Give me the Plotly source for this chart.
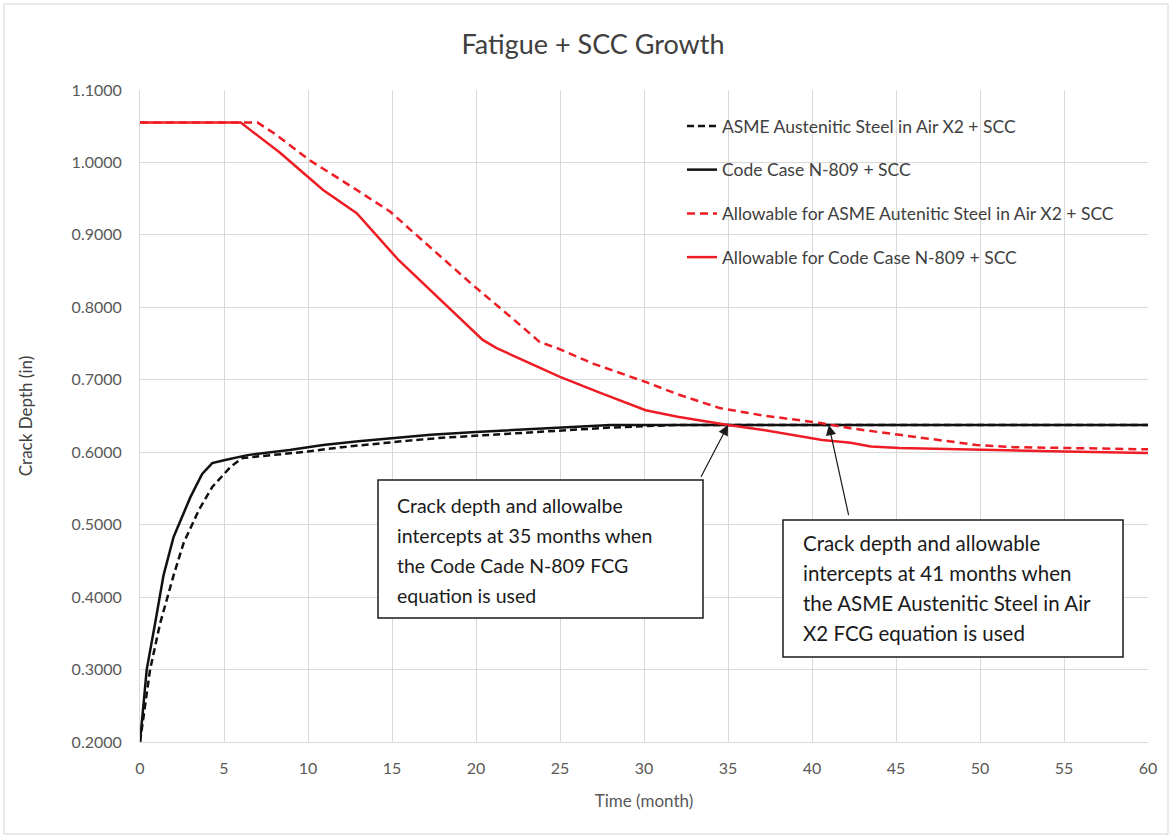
import plotly.graph_objects as go

# Crack depth growth (in) vs time (month)
t_asme = [0, 0.6, 1.2, 2.0, 2.6, 3.5, 4.3, 5.4, 6.1, 8, 10, 12, 14, 16, 18, 20, 22, 25, 28, 30, 32, 40, 50, 60]
d_asme = [0.200, 0.300, 0.364, 0.430, 0.475, 0.520, 0.552, 0.580, 0.592, 0.596, 0.601, 0.607, 0.612,
          0.616, 0.620, 0.623, 0.626, 0.630, 0.634, 0.636, 0.6375, 0.6375, 0.6375, 0.6375]

t_n809 = [0, 0.4, 0.9, 1.4, 2.0, 3.0, 3.7, 4.3, 5.0, 6.4, 8.9, 10.9, 13, 15, 17.3, 20, 23, 26, 28, 40, 50, 60]
d_n809 = [0.200, 0.300, 0.364, 0.430, 0.483, 0.538, 0.570, 0.585, 0.589, 0.596, 0.603, 0.610, 0.615,
          0.619, 0.624, 0.628, 0.632, 0.635, 0.6375, 0.6375, 0.6375, 0.6375]

# Allowable crack depth (in) vs time (month)
t_allow_asme = [0, 7, 8, 10.1, 12.5, 14.9, 16.1, 18, 19.8, 22, 23.8, 24.8, 27, 30.1, 32, 34.5, 37, 40.6,
                42.3, 45.2, 47.5, 49.8, 52, 55, 60]
a_allow_asme = [1.055, 1.055, 1.040, 1.003, 0.968, 0.932, 0.907, 0.868, 0.831, 0.788, 0.752, 0.744, 0.722,
                0.697, 0.680, 0.661, 0.651, 0.640, 0.633, 0.624, 0.617, 0.610, 0.607, 0.606, 0.604]

t_allow_n809 = [0, 6, 6.5, 8.3, 10.9, 12.9, 15.4, 17.9, 20.4, 21.2, 25, 27.4, 30.1, 32, 35, 37, 40.6, 42.3,
                43.5, 45.2, 50.2, 55, 60]
a_allow_n809 = [1.055, 1.055, 1.046, 1.014, 0.962, 0.930, 0.865, 0.810, 0.755, 0.744, 0.704, 0.682, 0.658,
                0.649, 0.6375, 0.631, 0.617, 0.613, 0.608, 0.606, 0.603, 0.601, 0.599]

series_names = [
    "ASME Austenitic Steel in Air X2 + SCC",
    "Code Case N-809 + SCC",
    "Allowable for ASME Autenitic Steel in Air X2 + SCC",
    "Allowable for Code Case N-809 + SCC",
]

x_ticks = list(range(0, 61, 5))
y_ticks = [0.2, 0.3, 0.4, 0.5, 0.6, 0.7, 0.8, 0.9, 1.0, 1.1]

# intercept points (month, depth) and where each callout's leader starts
intercept_n809 = (35, 0.6375)
intercept_asme = (41, 0.6375)
leader_n809 = (33.35, 0.564)
leader_asme = (42.2, 0.511)

box_n809_lines = ["Crack depth and allowalbe", "intercepts at 35 months when",
                  "the Code Cade N-809 FCG", "equation is used"]
box_asme_lines = ["Crack depth and allowable", "intercepts at 41 months when",
                  "the ASME Austenitic Steel in Air", "X2 FCG equation is used"]

FONT = "Lato"
BLACK = "#111111"
RED = "#ee1c24"

fig = go.Figure()
fig.add_trace(go.Scatter(x=t_asme, y=d_asme, mode="lines", name=series_names[0],
                         line=dict(color=BLACK, width=2.5, dash="7px,4px"), legendgroup="a"))
fig.add_trace(go.Scatter(x=t_n809, y=d_n809, mode="lines", name=series_names[1],
                         line=dict(color=BLACK, width=2.5), legendgroup="b"))
fig.add_trace(go.Scatter(x=t_allow_asme, y=a_allow_asme, mode="lines", name=series_names[2],
                         line=dict(color=RED, width=2.5, dash="8px,5px"), legendgroup="c"))
fig.add_trace(go.Scatter(x=t_allow_n809, y=a_allow_n809, mode="lines", name=series_names[3],
                         line=dict(color=RED, width=2.5), legendgroup="d"))

# plot geometry in pixels: left 140, right 1148, top 90, bottom 742
L, R, T, B = 140, 1148, 90, 742
W, H = 1172, 838


def px_to_paper(px, py):
    return (px - L) / (R - L), (B - py) / (B - T)


shapes = []
# white panel behind the legend (hides gridlines, stays under traces)
g0 = px_to_paper(645, 278)
g1 = px_to_paper(1130, 106)
shapes.append(dict(type="rect", xref="paper", yref="paper", x0=g0[0], y0=g0[1], x1=g1[0], y1=g1[1],
                   line=dict(width=0), fillcolor="white", layer="between"))
# callout boxes
for (x0, y0, x1, y1) in [(378, 480, 703, 618), (783, 520, 1123, 657)]:
    a0 = px_to_paper(x0, y1)
    a1 = px_to_paper(x1, y0)
    shapes.append(dict(type="rect", xref="paper", yref="paper", x0=a0[0], y0=a0[1], x1=a1[0], y1=a1[1],
                       line=dict(color="#1a1a1a", width=1.5), fillcolor="white", layer="above"))
# chart-area frame
f0 = px_to_paper(4, 834)
f1 = px_to_paper(1168, 4)
shapes.append(dict(type="rect", xref="paper", yref="paper", x0=f0[0], y0=f0[1], x1=f1[0], y1=f1[1],
                   line=dict(color="#d4d4d4", width=1), layer="below"))

annotations = []
# leader arrows
for head, tail in [(intercept_n809, leader_n809), (intercept_asme, leader_asme)]:
    annotations.append(dict(x=head[0], y=head[1], xref="x", yref="y", ax=tail[0], ay=tail[1],
                            axref="x", ayref="y", text="", showarrow=True, arrowhead=2,
                            arrowsize=1.7, arrowwidth=1.2, arrowcolor="#1a1a1a", standoff=0))
# callout text, one line per annotation
for lines, (tx, ty), size in [(box_n809_lines, (395, 505), 19.5), (box_asme_lines, (801, 543), 20.5)]:
    for i, line in enumerate(lines):
        px_, py_ = px_to_paper(tx, ty + i * 30)
        annotations.append(dict(x=px_, y=py_, xref="paper", yref="paper", text=line, showarrow=False,
                                xanchor="left", yanchor="middle", align="left",
                                font=dict(family=FONT, size=size, color="#1a1a1a")))

fig.update_layout(
    width=W, height=H,
    margin=dict(l=L, r=W - R, t=T, b=H - B),
    paper_bgcolor="white", plot_bgcolor="white",
    title=dict(text="Fatigue + SCC Growth", x=593 / W, xanchor="center", y=1 - 45 / H, yanchor="middle",
               font=dict(family=FONT, size=27, color="#404040")),
    font=dict(family=FONT, color="#595959"),
    showlegend=True,
    legend=dict(x=(682 - L) / (R - L), y=(B - 108) / (B - T), xanchor="left", yanchor="top",
                bgcolor="rgba(0,0,0,0)", borderwidth=0, tracegroupgap=18,
                font=dict(family=FONT, size=17.5, color="#404040")),
    shapes=shapes,
    annotations=annotations,
)
fig.update_xaxes(range=[0, 60], tickvals=x_ticks, ticktext=[str(v) for v in x_ticks],
                 showgrid=True, gridcolor="#d9d9d9", gridwidth=1, zeroline=False,
                 showline=True, linecolor="#d9d9d9", linewidth=1, ticks="",
                 ticklabelstandoff=12, tickfont=dict(family=FONT, size=16, color="#595959"),
                 title=dict(text="Time (month)", font=dict(family=FONT, size=17, color="#595959"), standoff=18))
fig.update_yaxes(range=[0.2, 1.1], tickvals=y_ticks, tickformat=".4f",
                 showgrid=True, gridcolor="#d9d9d9", gridwidth=1, zeroline=False,
                 showline=True, linecolor="#d9d9d9", linewidth=1, ticks="",
                 ticklabelstandoff=14, tickfont=dict(family=FONT, size=16, color="#595959"),
                 title=dict(text="Crack Depth (in)", font=dict(family=FONT, size=17, color="#404040"), standoff=34))

fig.write_html("out.html")
